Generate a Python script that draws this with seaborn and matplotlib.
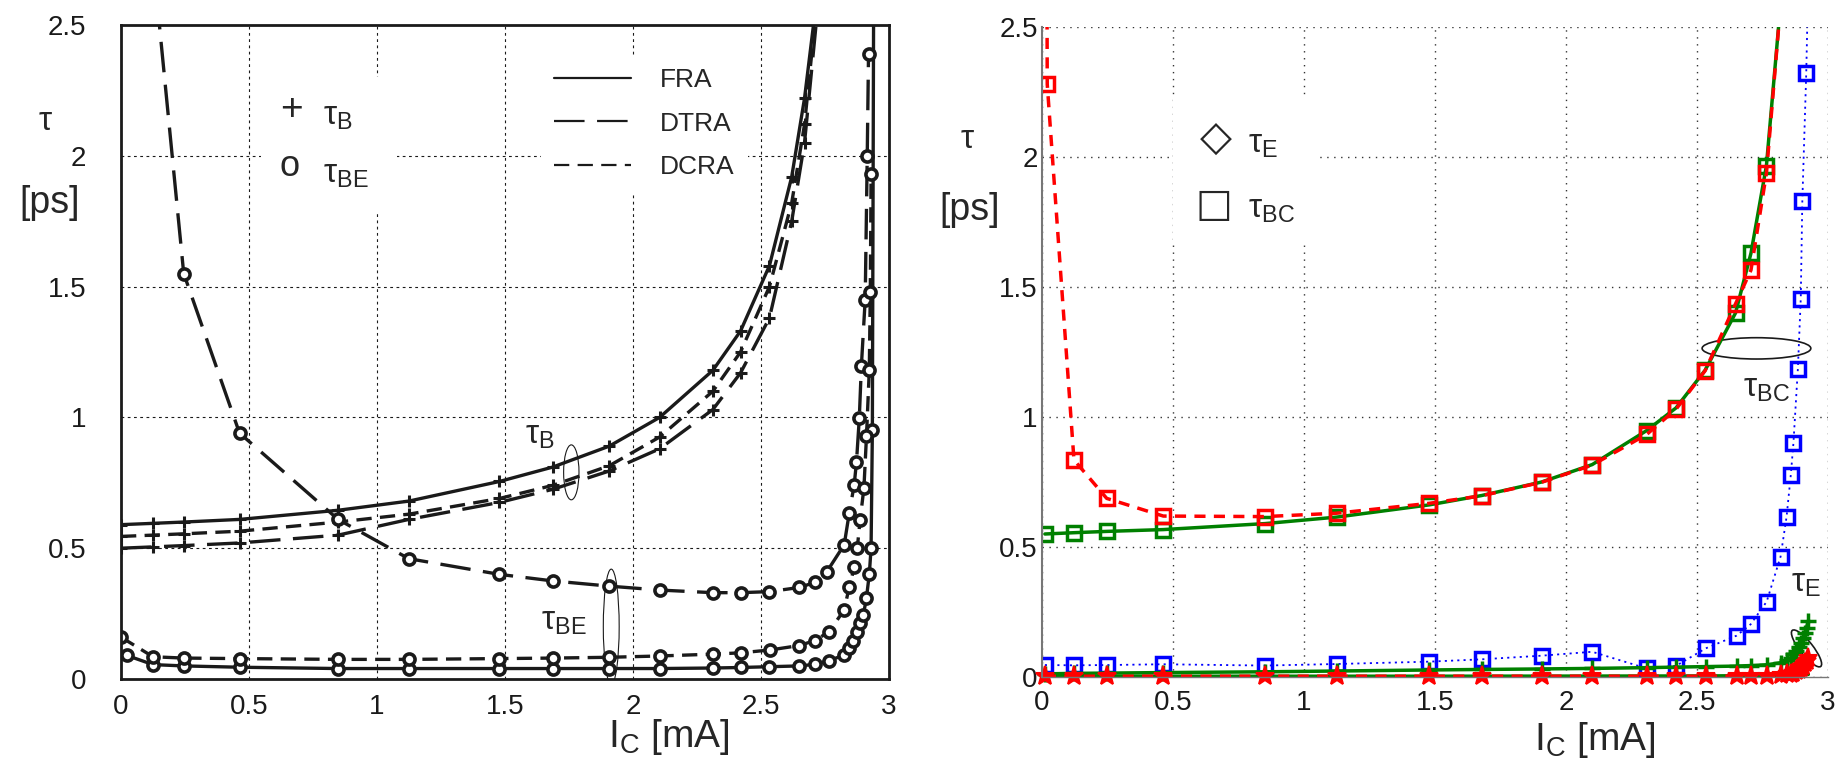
import numpy as np
import pandas as pd
import matplotlib
matplotlib.use('Agg')
import matplotlib.pyplot as plt
import seaborn as sns
from matplotlib.lines import Line2D
from matplotlib.patches import Ellipse, Rectangle

sns.set_theme(style='white')
plt.rcParams['font.family'] = ['Liberation Sans', 'DejaVu Sans']
plt.rcParams['mathtext.fontset'] = 'custom'
plt.rcParams['mathtext.rm'] = 'Liberation Sans'
plt.rcParams['mathtext.it'] = 'Liberation Sans:italic'
plt.rcParams['lines.scale_dashes'] = False

# ---------------- left panel data (black) ----------------
ic_b = [0.0, 0.125, 0.245, 0.463, 0.848, 1.124, 1.478, 1.686, 1.907, 2.104,
        2.312, 2.42, 2.533, 2.62, 2.67, 2.72]
tau_b_fra = [0.59, 0.595, 0.60, 0.61, 0.645, 0.68, 0.755, 0.81, 0.89, 1.0,
             1.18, 1.33, 1.58, 1.92, 2.22, 2.62]
tau_b_dcra = [0.545, 0.55, 0.555, 0.565, 0.60, 0.63, 0.69, 0.74, 0.815, 0.925,
              1.10, 1.25, 1.50, 1.82, 2.12, 2.60]
tau_b_dtra = [0.50, 0.505, 0.51, 0.52, 0.55, 0.61, 0.675, 0.725, 0.795, 0.88,
              1.03, 1.17, 1.38, 1.75, 2.05, 2.55]

ic_be_fra = [0.023, 0.125, 0.245, 0.463, 0.848, 1.124, 1.478, 1.686, 1.907, 2.104,
             2.312, 2.42, 2.533, 2.65, 2.71, 2.765, 2.826, 2.845, 2.86, 2.876,
             2.887, 2.9, 2.912, 2.923, 2.93, 2.935, 2.94]
tau_be_fra = [0.09, 0.055, 0.05, 0.045, 0.04, 0.04, 0.04, 0.04, 0.04, 0.04,
              0.042, 0.044, 0.047, 0.05, 0.056, 0.07, 0.092, 0.117, 0.147, 0.18,
              0.213, 0.245, 0.311, 0.40, 0.50, 0.95, 2.6]

ic_be_dcra = [0.0, 0.125, 0.245, 0.463, 0.848, 1.124, 1.478, 1.686, 1.907, 2.104,
              2.312, 2.42, 2.536, 2.65, 2.71, 2.765, 2.825, 2.845, 2.865, 2.876,
              2.887, 2.902, 2.912, 2.923, 2.927, 2.93]
tau_be_dcra = [0.16, 0.085, 0.08, 0.078, 0.075, 0.075, 0.078, 0.08, 0.083, 0.088,
               0.095, 0.10, 0.111, 0.128, 0.147, 0.18, 0.264, 0.353, 0.43, 0.50,
               0.606, 0.73, 0.927, 1.18, 1.48, 1.93]

ic_be_dtra = [0.023, 0.125, 0.245, 0.463, 0.848, 1.124, 1.478, 1.686, 1.907, 2.104,
              2.312, 2.42, 2.533, 2.65, 2.71, 2.757, 2.825, 2.845, 2.864, 2.873,
              2.884, 2.892, 2.907, 2.915, 2.92]
tau_be_dtra = [6.0, 2.75, 1.55, 0.94, 0.61, 0.46, 0.40, 0.375, 0.355, 0.34,
               0.33, 0.33, 0.334, 0.35, 0.369, 0.41, 0.513, 0.636, 0.742, 0.83,
               0.997, 1.195, 1.45, 2.0, 2.39]

# ---------------- right panel data (colour) ----------------
ic_bc = [0.011, 0.122, 0.247, 0.463, 0.851, 1.125, 1.478, 1.678, 1.907, 2.10,
         2.308, 2.42, 2.531, 2.647, 2.706, 2.765, 2.82]
tau_bc_green = [0.55, 0.555, 0.56, 0.567, 0.59, 0.615, 0.662, 0.698, 0.75, 0.817,
                0.948, 1.035, 1.18, 1.40, 1.63, 1.967, 2.6]

ic_bc_red = [0.01, 0.02, 0.122, 0.247, 0.463, 0.851, 1.125, 1.478, 1.678, 1.907,
             2.10, 2.308, 2.42, 2.531, 2.647, 2.706, 2.765, 2.82]
tau_bc_red = [6.0, 2.28, 0.835, 0.687, 0.619, 0.617, 0.63, 0.668, 0.697, 0.749,
              0.815, 0.933, 1.03, 1.178, 1.435, 1.565, 1.937, 2.6]

ic_bc_blue = [0.011, 0.122, 0.247, 0.463, 0.851, 1.125, 1.478, 1.678, 1.907, 2.10,
              2.308, 2.42, 2.533, 2.651, 2.705, 2.766, 2.819, 2.842, 2.858, 2.868,
              2.885, 2.896, 2.902, 2.917, 2.925]
tau_bc_blue = [0.046, 0.045, 0.046, 0.049, 0.044, 0.05, 0.059, 0.068, 0.082, 0.097,
               0.033, 0.043, 0.11, 0.159, 0.203, 0.29, 0.463, 0.617, 0.777, 0.899,
               1.185, 1.454, 1.831, 2.324, 2.7]

ic_e = [0.011, 0.122, 0.247, 0.463, 0.851, 1.125, 1.478, 1.678, 1.907, 2.10,
        2.308, 2.42, 2.533, 2.651, 2.705, 2.766, 2.819, 2.842, 2.858, 2.868,
        2.878, 2.888, 2.896, 2.904, 2.912, 2.918, 2.925]
tau_e_green = [0.012, 0.014, 0.015, 0.017, 0.02, 0.023, 0.027, 0.029, 0.031, 0.033,
               0.036, 0.038, 0.04, 0.042, 0.044, 0.047, 0.055, 0.065, 0.075, 0.088,
               0.10, 0.115, 0.13, 0.15, 0.17, 0.19, 0.215]
tau_e_red = [0.003, 0.003, 0.003, 0.003, 0.003, 0.003, 0.003, 0.003, 0.003, 0.003,
             0.003, 0.003, 0.003, 0.004, 0.004, 0.005, 0.007, 0.01, 0.013, 0.017,
             0.022, 0.028, 0.035, 0.043, 0.052, 0.062, 0.075]
ic_e_low = [0.011, 1.478, 2.533, 2.819, 2.925]
tau_e_low = [0.003, 0.003, 0.004, 0.006, 0.01]

tick_vals_x = [0, 0.5, 1, 1.5, 2, 2.5, 3]
tick_labs_x = ['0', '0.5', '1', '1.5', '2', '2.5', '3']
tick_vals_y = [0, 0.5, 1, 1.5, 2, 2.5]
tick_labs_y = ['0', '0.5', '1', '1.5', '2', '2.5']

W, H = 1847, 765
fig = plt.figure(figsize=(W / 100, H / 100), dpi=100)
ax1 = fig.add_axes([121 / W, 1 - 679 / H, (889 - 121) / W, (679 - 25) / H])
ax2 = fig.add_axes([1042 / W, 1 - 677 / H, (1828 - 1042) / W, (677 - 27) / H])

DTRA = (0, (22, 9))
DCRA = (0, (11, 6))

# ---------------- left panel ----------------
def black(x, y, ls, marker):
    mk = dict(marker=marker, ms=9, mew=2.2, mec='k')
    if marker == 'o':
        mk.update(mfc='white', ms=8, mew=2.6)
    sns.lineplot(x=x, y=y, ax=ax1, color='k', lw=2.4, linestyle=ls,
                 sort=False, estimator=None, **mk)

black(ic_b, tau_b_fra, '-', '+')
black(ic_b, tau_b_dtra, DTRA, '+')
black(ic_b, tau_b_dcra, DCRA, '+')
black(ic_be_fra, tau_be_fra, '-', 'o')
black(ic_be_dtra, tau_be_dtra, DTRA, 'o')
black(ic_be_dcra, tau_be_dcra, DCRA, 'o')

ax1.set_xlim(0, 3)
ax1.set_ylim(0, 2.5)
ax1.set_xticks(tick_vals_x, tick_labs_x)
ax1.set_yticks(tick_vals_y, tick_labs_y)
ax1.set_axisbelow(True)
ax1.grid(True, color='k', linestyle=(0, (2, 2.5)), linewidth=0.8)
for s in ax1.spines.values():
    s.set_color('k')
    s.set_linewidth(2)
ax1.tick_params(axis='both', length=0, labelsize=20, colors='k')
ax1.tick_params(axis='y', pad=25)
ax1.tick_params(axis='x', pad=11)

# marker legend (text) with white box
ax1.add_patch(Rectangle((0.545, 1.785), 0.535, 0.515, fc='white', ec='none', zorder=1))
ax1.text(0.665, 2.175, '+', fontsize=28, ha='center', va='center', zorder=3)
ax1.text(0.79, 2.15, 'τ$_\\mathrm{B}$', fontsize=24, ha='left', va='center', zorder=3)
ax1.text(0.66, 1.96, 'o', fontsize=26, ha='center', va='center', zorder=3)
ax1.text(0.79, 1.93, 'τ$_\\mathrm{BE}$', fontsize=24, ha='left', va='center', zorder=3)

handles = [Line2D([], [], color='k', lw=1.6, linestyle='-'),
           Line2D([], [], color='k', lw=1.6, linestyle=DTRA),
           Line2D([], [], color='k', lw=1.6, linestyle=DCRA)]
leg = ax1.legend(handles, ['FRA', 'DTRA', 'DCRA'], loc='upper left',
                 bbox_to_anchor=(0.53, 0.975), fontsize=19, handlelength=2.9,
                 handletextpad=1.1, labelspacing=0.75, frameon=True,
                 borderpad=0.5, fancybox=False)
leg.get_frame().set_edgecolor('none')
leg.get_frame().set_facecolor('white')
leg.get_frame().set_alpha(1)

ax1.text(1.58, 0.93, 'τ$_\\mathrm{B}$', fontsize=24, ha='left', va='center')
ax1.add_patch(Ellipse((1.759, 0.79), 0.06, 0.21, fill=False, ec='k', lw=0.8))
ax1.text(1.64, 0.22, 'τ$_\\mathrm{BE}$', fontsize=24, ha='left', va='center')
ax1.add_patch(Ellipse((1.915, 0.20), 0.062, 0.44, fill=False, ec='k', lw=0.8))

# ---------------- right panel ----------------
GREEN, RED, BLUE = '#008000', '#ff0000', '#0000ff'
sq = dict(marker='s', ms=10, mfc='none', mew=2.5)
sns.lineplot(x=ic_e_low, y=tau_e_low, ax=ax2, color=GREEN, lw=2.5,
             sort=False, estimator=None, clip_on=False)
sns.lineplot(x=ic_bc_blue, y=tau_bc_blue, ax=ax2, color=BLUE, lw=1.3,
             linestyle=(0, (1.5, 3)), sort=False, estimator=None, mec=BLUE, **sq)
sns.lineplot(x=ic_e, y=tau_e_green, ax=ax2, color=GREEN, lw=2.5,
             marker='+', ms=12, mew=2.5, mec=GREEN, sort=False, estimator=None,
             clip_on=False)
sns.lineplot(x=ic_e, y=tau_e_red, ax=ax2, color=RED, lw=2.5, linestyle=(0, (8, 6)),
             marker='*', ms=14, mew=1.5, mec=RED, sort=False, estimator=None,
             clip_on=False)
sns.lineplot(x=ic_bc, y=tau_bc_green, ax=ax2, color=GREEN, lw=2.5,
             sort=False, estimator=None, mec=GREEN, **sq)
sns.lineplot(x=ic_bc_red, y=tau_bc_red, ax=ax2, color=RED, lw=2.5,
             linestyle=(0, (8, 6)), sort=False, estimator=None, mec=RED, **sq)

ax2.set_xlim(0, 3)
ax2.set_ylim(0, 2.5)
ax2.set_xticks(tick_vals_x, tick_labs_x)
ax2.set_yticks(tick_vals_y, tick_labs_y)
ax2.set_axisbelow(True)
ax2.grid(True, color='#333333', linestyle=(0, (1, 4)), linewidth=1.0)
ax2.spines['top'].set_visible(False)
ax2.spines['right'].set_visible(False)
ax2.spines['left'].set_color('#777777')
ax2.spines['left'].set_linewidth(1.5)
ax2.spines['bottom'].set_color('#777777')
ax2.spines['bottom'].set_linewidth(1.0)
ax2.tick_params(axis='both', direction='in', length=6, color='#777777',
                labelsize=20, colors='k')
ax2.tick_params(axis='y', pad=3, colors='k')
ax2.tick_params(axis='x', pad=9)
ax2.tick_params(axis='both', color='#777777')

ax2.add_patch(Rectangle((0.5, 1.68), 0.56, 0.56, fc='white', ec='none', zorder=1))
ax2.text(0.664, 2.07, '◇', fontsize=30, ha='center', va='center', zorder=3,
         family=['DejaVu Sans'])
ax2.text(0.785, 2.05, 'τ$_\\mathrm{E}$', fontsize=24, ha='left', va='center', zorder=3)
ax2.text(0.655, 1.815, '□', fontsize=28, ha='center', va='center', zorder=3,
         family=['DejaVu Sans'])
ax2.text(0.785, 1.80, 'τ$_\\mathrm{BC}$', fontsize=24, ha='left', va='center', zorder=3)

ax2.add_patch(Ellipse((2.727, 1.264), 0.415, 0.082, fill=False, ec='k', lw=1.2))
ax2.text(2.675, 1.11, 'τ$_\\mathrm{BC}$', fontsize=24, ha='left', va='center')
ax2.add_patch(Ellipse((2.918, 0.11), 0.176, 0.05, angle=-52, fill=False, ec='k', lw=1.2))
ax2.text(2.86, 0.36, 'τ$_\\mathrm{E}$', fontsize=24, ha='left', va='center')

# ---------------- axis labels ----------------
fig.text(45 / W, 1 - 122 / H, 'τ', fontsize=24, ha='center', va='center')
fig.text(50 / W, 1 - 203 / H, '[ps]', fontsize=27, ha='center', va='center')
fig.text(967 / W, 1 - 140 / H, 'τ', fontsize=24, ha='center', va='center')
fig.text(970 / W, 1 - 210 / H, '[ps]', fontsize=27, ha='center', va='center')
fig.text(669 / W, 1 - 737 / H, 'I$_\\mathrm{C}$ [mA]', fontsize=28, ha='center', va='center')
fig.text(1595 / W, 1 - 740 / H, 'I$_\\mathrm{C}$ [mA]', fontsize=28, ha='center', va='center')

fig.savefig('out.png', dpi=100, facecolor='white')
